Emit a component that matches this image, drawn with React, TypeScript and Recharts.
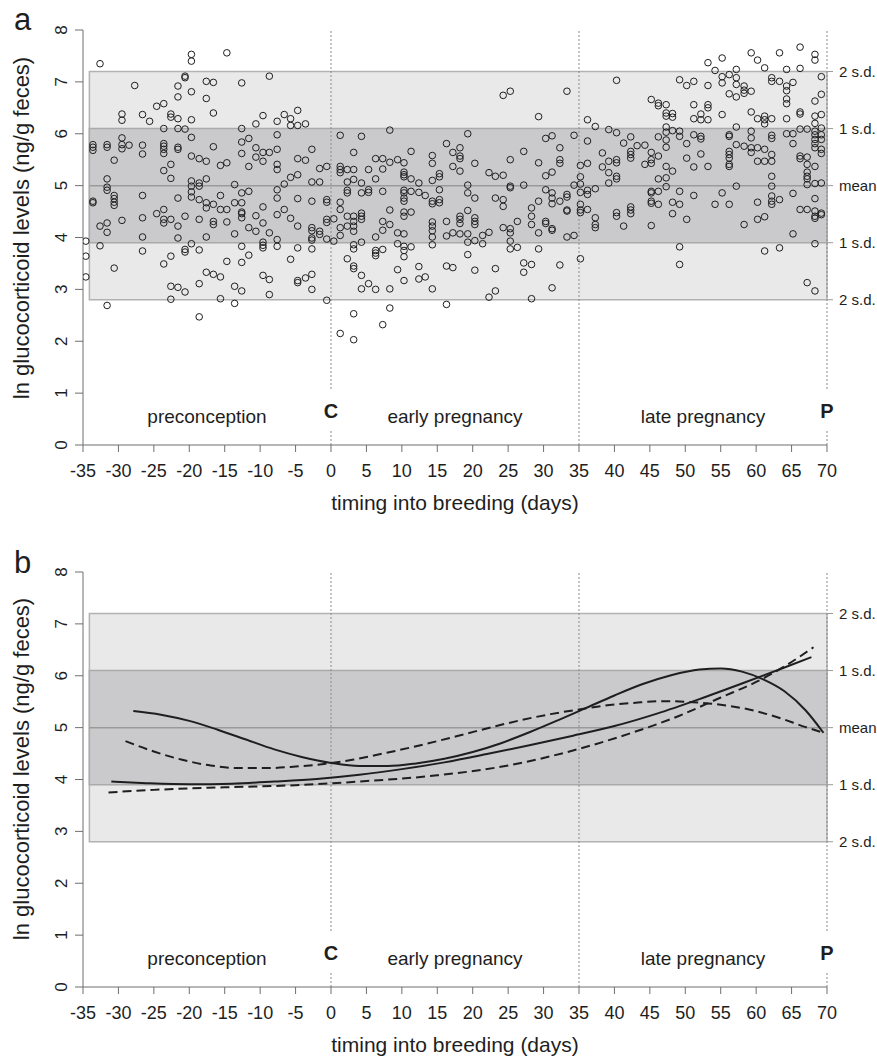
import React from "react";
import {
  ComposedChart,
  Scatter,
  Line,
  XAxis,
  YAxis,
  ReferenceArea,
  ReferenceLine,
  ReferenceDot,
} from "recharts";

// axis ticks and labels
const dayTicks = [-35, -30, -25, -20, -15, -10, -5, 0, 5, 10, 15, 20, 25, 30, 35, 40, 45, 50, 55, 60, 65, 70];
const levelTicks = [0, 1, 2, 3, 4, 5, 6, 7, 8];
const sdTicks = [2.8, 3.9, 5, 6.1, 7.2];
const sdLabels = ["2 s.d.", "1 s.d.", "mean", "1 s.d.", "2 s.d."];
const stageLabels = ["preconception", "early pregnancy", "late pregnancy"];
const stageMidDays = [-17.5, 17.5, 52.5];
const eventLabels = ["C", "P"];
const eventDays = [0, 70];
const stageBoundaries = [0, 35, 70];
const bandStartDay = -34.1;

// panel a: individual samples, grouped by day [day, ln values]
const hormoneColumns: [number, number[]][] = [
  [-34.6, [3.93, 3.64, 3.24]],
  [-33.6, [5.79, 5.74, 5.68, 4.7, 4.67]],
  [-32.6, [7.35, 4.22, 3.84]],
  [-31.6, [5.79, 5.74, 5.13, 4.97, 4.91, 4.28, 4.1, 2.69]],
  [-30.6, [5.49, 4.81, 4.75, 4.68, 4.62, 3.41]],
  [-29.5, [6.38, 6.26, 5.92, 5.79, 5.71, 4.33]],
  [-28.5, [5.78]],
  [-27.7, [6.93]],
  [-26.6, [6.37, 5.78, 5.61, 4.81, 4.38, 4.01, 3.74]],
  [-25.6, [6.24]],
  [-24.6, [6.53, 4.46]],
  [-23.6, [6.58, 6.1, 5.81, 5.76, 5.7, 5.62, 5.29, 4.54, 4.35, 4.28, 3.49]],
  [-22.6, [6.38, 6.32, 5.41, 5.14, 4.35, 3.64, 3.06, 2.81]],
  [-21.6, [6.92, 6.71, 6.29, 6.1, 5.74, 5.7, 4.76, 4.22, 3.99, 3.04]],
  [-20.6, [7.11, 7.08, 6.09, 4.41, 3.77, 3.72, 2.95]],
  [-19.7, [7.53, 7.4, 6.81, 6.27, 5.93, 5.57, 5.09, 4.99, 4.88, 4.78, 3.88]],
  [-18.6, [5.52, 5.05, 4.99, 4.73, 4.35, 3.76, 3.11, 2.47]],
  [-17.6, [7.01, 6.68, 5.47, 5.13, 4.67, 4.57, 4.01, 3.33]],
  [-16.6, [6.99, 6.4, 5.75, 4.64, 4.31, 4.25, 3.29]],
  [-15.6, [5.39, 4.81, 4.54, 3.24, 2.82]],
  [-14.7, [7.56, 5.44, 4.54, 4.3, 3.54]],
  [-13.6, [5.02, 4.67, 4.07, 3.06, 2.73]],
  [-12.6, [6.98, 6.1, 5.84, 5.62, 4.86, 4.67, 4.49, 4.46, 4.38, 3.83, 3.52, 2.97]],
  [-11.6, [5.91, 5.37, 4.89, 4.19, 3.66]],
  [-10.6, [6.19, 5.73, 5.55, 4.42, 4.12]],
  [-9.6, [6.35, 5.64, 5.47, 4.59, 4.28, 3.91, 3.85, 3.8, 3.27]],
  [-8.7, [7.11, 5.64, 4.09, 3.19, 2.9]],
  [-7.6, [6.24, 5.98, 5.7, 5.41, 5.31, 4.92, 4.76, 4.44, 3.96, 3.83]],
  [-6.6, [6.37, 5.03, 4.54]],
  [-5.7, [6.29, 6.16, 5.16, 4.37, 3.58]],
  [-4.7, [6.45, 6.16, 5.52, 5.21, 4.75, 4.22, 3.8, 3.17, 3.13]],
  [-3.6, [6.19, 5.49, 3.22]],
  [-2.7, [5.7, 5.07, 4.7, 4.19, 4.13, 3.99, 3.95, 3.78, 3.29, 3.0]],
  [-1.6, [5.33, 5.07, 4.12, 4.06]],
  [-0.6, [5.37, 4.73, 4.68, 4.35, 4.29, 3.97, 2.79]],
  [0.4, [4.36, 3.93]],
  [1.3, [5.97, 5.37, 5.31, 5.25, 4.68, 4.54, 4.19, 4.04, 2.15]],
  [2.3, [5.31, 5.07, 4.91, 4.86, 4.41, 4.22, 3.59]],
  [3.2, [5.64, 5.31, 5.12, 4.41, 4.31, 4.22, 4.12, 3.86, 3.78, 3.45, 3.4, 2.53, 2.03]],
  [4.3, [5.95, 5.05, 4.86, 4.47, 4.41, 4.35, 3.91, 3.27, 3.01]],
  [5.3, [5.31, 4.92, 4.87, 3.11]],
  [6.3, [5.52, 5.13, 4.01, 3.75, 3.7, 3.65, 3.0]],
  [7.3, [5.52, 5.32, 4.89, 4.31, 4.14, 3.77, 2.32]],
  [8.3, [6.07, 5.45, 4.53, 4.25, 3.01, 2.64]],
  [9.4, [5.5, 4.09, 3.88, 3.38]],
  [10.3, [5.44, 5.26, 5.21, 5.17, 4.91, 4.86, 4.76, 4.7, 4.49, 4.41, 4.07, 3.83, 3.75, 3.63, 3.17]],
  [11.3, [5.66, 5.13, 4.89, 4.49, 3.82]],
  [12.4, [5.05, 4.87, 3.44, 3.2]],
  [13.3, [4.81, 3.24]],
  [14.3, [5.58, 5.43, 5.1, 4.7, 4.65, 4.3, 4.22, 4.13, 4.01, 3.86, 3.01]],
  [15.3, [5.23, 5.17, 4.92, 4.73, 4.67]],
  [16.3, [5.81, 4.31, 4.03, 3.45, 2.71]],
  [17.2, [5.64, 5.37, 4.09, 3.42]],
  [18.2, [5.73, 5.57, 5.52, 5.28, 4.41, 4.35, 4.27, 4.07]],
  [19.3, [6.0, 5.01, 4.86, 4.52, 4.07, 3.91, 3.67]],
  [20.3, [5.43, 4.76, 4.38, 4.31, 4.25, 3.94, 3.37]],
  [21.4, [4.04, 3.88]],
  [22.3, [5.25, 4.1, 2.85]],
  [23.2, [5.18, 4.76, 3.4, 2.97]],
  [24.3, [6.74, 5.2, 4.73, 4.6, 4.19]],
  [25.3, [6.82, 5.5, 4.99, 4.96, 4.17, 4.09, 3.93, 3.78]],
  [26.3, [4.31, 3.81]],
  [27.2, [5.66, 5.01, 3.51, 3.33]],
  [28.3, [4.57, 4.41, 4.25, 3.48, 2.82]],
  [29.3, [6.33, 5.44, 4.7, 4.09, 3.78]],
  [30.3, [5.91, 5.19, 4.92, 4.31, 4.27]],
  [31.2, [5.96, 5.26, 4.86, 4.76, 4.65, 4.17, 4.14, 3.03]],
  [32.3, [5.73, 5.5, 5.43, 4.7, 3.47]],
  [33.3, [6.82, 4.83, 4.78, 4.53, 4.51, 4.01]],
  [34.3, [5.97, 5.01, 4.04]],
  [35.2, [5.39, 5.17, 5.03, 4.87, 4.64, 4.53, 4.48, 3.59]],
  [36.2, [6.27, 5.86, 5.43, 4.91, 4.83, 4.54]],
  [37.3, [6.14, 4.94, 4.38, 4.25, 4.19]],
  [38.3, [5.63, 5.36]],
  [39.2, [6.08, 5.47, 5.25, 5.05]],
  [40.3, [7.03, 6.02, 5.5, 5.44, 5.18, 5.13, 4.48, 4.41]],
  [41.3, [5.82, 4.22]],
  [42.3, [5.94, 5.66, 5.6, 5.53, 4.59, 4.53, 4.46]],
  [43.2, [5.77]],
  [44.3, [5.78, 5.41]],
  [45.2, [6.66, 5.64, 5.5, 5.43, 4.89, 4.86, 4.7, 4.66, 4.23]],
  [46.2, [6.59, 6.54, 5.94, 5.57, 5.13, 4.89, 4.64]],
  [47.3, [6.56, 6.4, 6.34, 6.13, 6.03, 5.88, 5.74, 5.37, 5.15, 4.98]],
  [48.2, [6.39, 6.32, 6.06, 5.28, 4.68, 4.46]],
  [49.2, [7.04, 6.05, 5.95, 4.89, 4.64, 3.82, 3.48]],
  [50.2, [6.93, 5.81, 5.53, 4.35]],
  [51.2, [7.01, 6.56, 6.29, 5.98, 5.36, 4.81]],
  [52.2, [6.38, 6.27, 5.95, 5.9, 5.61]],
  [53.2, [7.37, 6.93, 6.56, 6.5, 6.27, 5.37]],
  [54.2, [7.22, 4.64]],
  [55.2, [7.46, 7.1, 6.98, 6.37, 4.86]],
  [56.2, [7.14, 6.77, 5.98, 5.95, 5.66, 5.6, 5.53, 5.41, 5.37, 4.64]],
  [57.2, [7.24, 7.08, 6.95, 6.71, 6.13, 5.79, 4.99]],
  [58.3, [6.92, 6.84, 6.78, 5.76, 4.25]],
  [59.3, [7.56, 6.82, 6.42, 6.05, 5.92, 5.73, 5.64]],
  [60.2, [7.42, 6.29, 5.73, 5.47, 4.68, 4.35]],
  [61.2, [7.27, 6.34, 6.27, 6.19, 5.7, 5.47, 4.4, 3.74]],
  [62.2, [7.08, 7.01, 6.29, 5.97, 5.91, 5.6, 5.47, 5.18, 4.99, 4.8, 4.7, 4.64]],
  [63.3, [7.56, 7.01, 4.73, 3.8]],
  [64.3, [7.24, 6.92, 6.83, 6.67, 6.58, 6.29, 6.0]],
  [65.2, [6.99, 6.0, 5.81, 4.85, 4.07]],
  [66.2, [7.67, 7.26, 6.42, 6.38, 6.09, 5.57, 5.52, 4.54]],
  [67.2, [6.09, 5.55, 5.41, 5.26, 5.18, 5.13, 5.02, 4.54, 3.13]],
  [68.3, [7.53, 7.42, 6.63, 6.34, 6.2, 6.05, 5.98, 5.89, 5.81, 5.73, 5.37, 5.04, 4.75, 4.51, 4.41, 4.37, 3.88, 2.97]],
  [69.2, [7.1, 6.76, 6.37, 6.11, 5.98, 5.89, 5.7, 5.62, 5.05, 4.47, 4.44]],
];

// panel b: fitted curves [day, ln value], read every few days
const solidHumpCurve: [number, number][] = [
  [-27.9, 5.32], [-24, 5.25], [-20, 5.13], [-16, 4.96], [-12, 4.77], [-8, 4.58], [-4, 4.43],
  [0, 4.32], [4, 4.26], [8, 4.26], [12, 4.31], [16, 4.4], [20, 4.53], [24, 4.7], [28, 4.91],
  [32, 5.14], [36, 5.38], [40, 5.62], [44, 5.84], [48, 6.01], [52, 6.12], [55, 6.14],
  [58, 6.08], [61, 5.93], [64, 5.7], [67, 5.33], [69.5, 4.9],
];
const solidRiseCurve: [number, number][] = [
  [-31, 3.96], [-26, 3.93], [-20, 3.91], [-14, 3.92], [-8, 3.96], [-2, 4.01], [4, 4.09],
  [10, 4.2], [16, 4.33], [22, 4.49], [28, 4.66], [34, 4.84], [40, 5.03], [46, 5.27],
  [52, 5.55], [58, 5.85], [64, 6.16], [67.8, 6.36],
];
const dashedHumpCurve: [number, number][] = [
  [-29, 4.74], [-25, 4.54], [-21, 4.38], [-17, 4.27], [-13, 4.22], [-9, 4.22], [-5, 4.25],
  [-1, 4.3], [3, 4.38], [7, 4.49], [11, 4.61], [15, 4.74], [19, 4.88], [23, 5.02], [27, 5.15],
  [31, 5.26], [35, 5.35], [39, 5.43], [43, 5.48], [47, 5.51], [51, 5.49], [55, 5.44],
  [59, 5.35], [63, 5.2], [67, 5.01], [69.5, 4.9],
];
const dashedRiseCurve: [number, number][] = [
  [-31.4, 3.75], [-25, 3.8], [-15, 3.85], [-5, 3.89], [5, 3.97], [15, 4.08], [25, 4.27],
  [35, 4.59], [42, 4.88], [49, 5.22], [55, 5.58], [60, 5.88], [64, 6.18], [68.1, 6.55],
];

const FONT = "'Liberation Sans', Arial, Helvetica, sans-serif";
const INK = "#1e1e1e";
const AXIS = "#6f6f6f";

const toPoints = (pts: [number, number][]) => pts.map(([x, y]) => ({ x, y }));

const scatterPoints = hormoneColumns.flatMap(([day, values]) =>
  values.map((v) => ({ x: day, y: v }))
);

const LevelTick = (props: any) => {
  const { x, y, payload } = props;
  const bx = x - 6;
  return (
    <text
      x={bx}
      y={y}
      transform={`rotate(-90 ${bx} ${y})`}
      textAnchor="middle"
      fontSize={17}
      fill={INK}
      fontFamily={FONT}
    >
      {payload.value}
    </text>
  );
};

const OpenCircle = (props: any) => (
  <circle cx={props.cx} cy={props.cy} r={3.3} fill="none" stroke={INK} strokeWidth={1} />
);

const stageText = (label: string) => (p: any) => (
  <text x={p.cx} y={p.cy} textAnchor="middle" fontSize={19} fill={INK} fontFamily={FONT}>
    {label}
  </text>
);

const eventText = (label: string) => (p: any) => (
  <g>
    <rect x={p.cx - 10} y={p.cy - 28} width={20} height={41} fill="#ffffff" />
    <text
      x={p.cx}
      y={p.cy}
      textAnchor="middle"
      fontSize={20}
      fontWeight="bold"
      fill={INK}
      fontFamily={FONT}
    >
      {label}
    </text>
  </g>
);

const sdLabel = (v: number) => {
  const i = sdTicks.indexOf(v);
  return i >= 0 ? sdLabels[i] : "";
};

const Panel = ({ children }: { children: React.ReactNode }) => (
  <ComposedChart
    width={877}
    height={516}
    margin={{ top: 30, right: 0, bottom: 0, left: 0 }}
    style={{ fontFamily: FONT }}
  >
    <XAxis
      dataKey="x"
      type="number"
      domain={[-35, 70]}
      ticks={dayTicks}
      interval={0}
      allowDataOverflow
      height={71}
      tickSize={7}
      tickMargin={12}
      stroke={AXIS}
      tick={{ fontSize: 18, fill: INK }}
      label={{
        value: "timing into breeding (days)",
        position: "insideBottom",
        offset: 6,
        fontSize: 21,
        fill: INK,
      }}
    />
    <YAxis
      yAxisId="lv"
      type="number"
      domain={[0, 8]}
      ticks={levelTicks}
      interval={0}
      allowDataOverflow
      width={83}
      tickSize={8}
      tickMargin={2}
      stroke={AXIS}
      tick={LevelTick}
    />
    <YAxis
      yAxisId="sd"
      orientation="right"
      type="number"
      domain={[0, 8]}
      ticks={sdTicks}
      interval={0}
      allowDataOverflow
      width={50}
      tickSize={6}
      tickMargin={6}
      axisLine={false}
      stroke="#9a9a9a"
      tick={{ fontSize: 15, fill: INK }}
      tickFormatter={sdLabel}
    />
    <ReferenceArea
      yAxisId="lv"
      x1={bandStartDay}
      x2={70}
      y1={sdTicks[0]}
      y2={sdTicks[4]}
      fill="#e9e9ea"
      fillOpacity={1}
      stroke="#b2b2b2"
      strokeWidth={1.5}
    />
    <ReferenceArea
      yAxisId="lv"
      x1={bandStartDay}
      x2={70}
      y1={sdTicks[1]}
      y2={sdTicks[3]}
      fill="#cacacc"
      fillOpacity={1}
      stroke="#aaaaaa"
      strokeWidth={1.5}
    />
    <ReferenceLine
      yAxisId="lv"
      segment={[
        { x: bandStartDay, y: sdTicks[2] },
        { x: 70, y: sdTicks[2] },
      ]}
      stroke="#9a9a9a"
      strokeWidth={1.5}
    />
    {stageBoundaries.map((d) => (
      <ReferenceLine
        key={d}
        yAxisId="lv"
        x={d}
        stroke="#8a8a8a"
        strokeWidth={1}
        strokeDasharray="2 2"
      />
    ))}
    {children}
    {stageLabels.map((s, i) => (
      <ReferenceDot
        key={s}
        yAxisId="lv"
        x={stageMidDays[i]}
        y={0.43}
        r={0}
        shape={stageText(s)}
      />
    ))}
    {eventLabels.map((s, i) => (
      <ReferenceDot
        key={s}
        yAxisId="lv"
        x={eventDays[i]}
        y={0.53}
        r={0}
        shape={eventText(s)}
      />
    ))}
  </ComposedChart>
);

const YTitle = ({ cy }: { cy: number }) => (
  <text
    x={28.5}
    y={cy}
    transform={`rotate(-90 28.5 ${cy})`}
    textAnchor="middle"
    fontSize={22}
    fill={INK}
    fontFamily={FONT}
  >
    ln glucocorticoid levels (ng/g feces)
  </text>
);

const curveStyle = {
  yAxisId: "lv",
  dataKey: "y",
  type: "monotone" as const,
  stroke: INK,
  strokeWidth: 2,
  dot: false,
  activeDot: false,
  isAnimationActive: false,
};

export default function App() {
  return (
    <div
      style={{
        position: "absolute",
        left: 0,
        top: 0,
        width: 877,
        height: 1058,
        background: "#ffffff",
        fontFamily: FONT,
      }}
    >
      <div style={{ position: "absolute", left: 0, top: 0 }}>
        <Panel>
          <Scatter
            yAxisId="lv"
            data={scatterPoints}
            dataKey="y"
            shape={OpenCircle}
            isAnimationActive={false}
          />
        </Panel>
      </div>
      <div style={{ position: "absolute", left: 0, top: 542 }}>
        <Panel>
          <Line {...curveStyle} data={toPoints(solidHumpCurve)} />
          <Line {...curveStyle} data={toPoints(solidRiseCurve)} />
          <Line {...curveStyle} data={toPoints(dashedHumpCurve)} strokeDasharray="9 5" />
          <Line {...curveStyle} data={toPoints(dashedRiseCurve)} strokeDasharray="9 5" />
        </Panel>
      </div>
      <svg
        width={877}
        height={1058}
        style={{ position: "absolute", left: 0, top: 0, pointerEvents: "none" }}
      >
        <text x={14} y={30} fontSize={31} fill={INK} fontFamily={FONT}>
          a
        </text>
        <text x={14} y={573} fontSize={31} fill={INK} fontFamily={FONT}>
          b
        </text>
        <YTitle cy={228} />
        <YTitle cy={769} />
      </svg>
    </div>
  );
}
